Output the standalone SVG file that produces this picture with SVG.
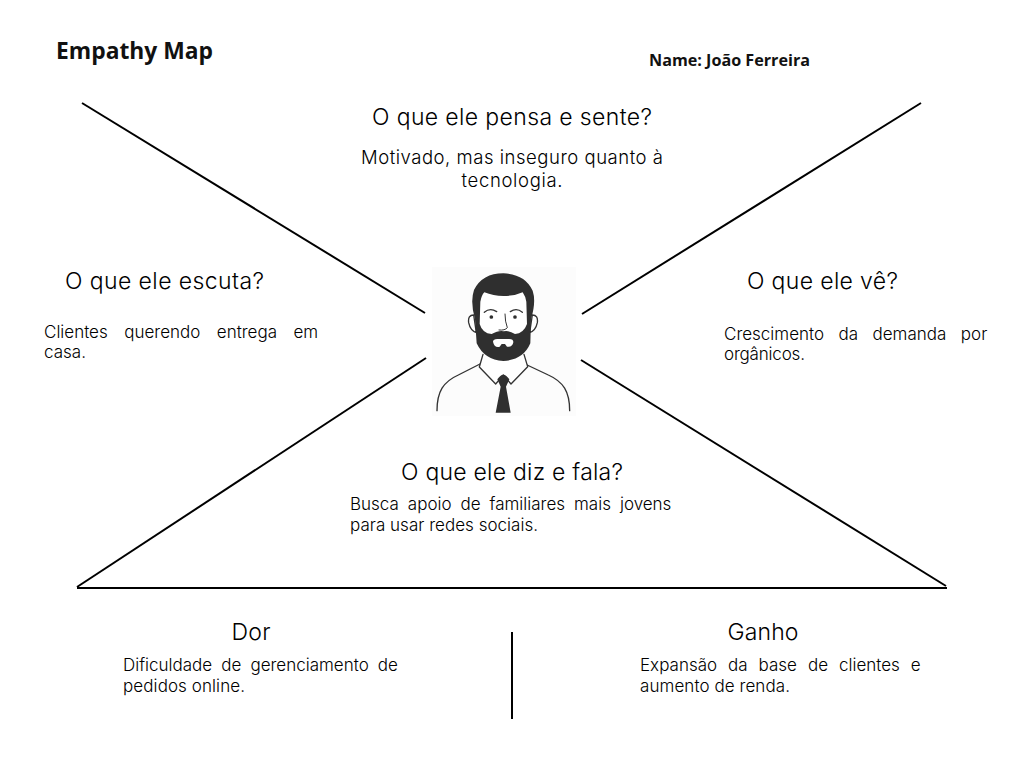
<svg xmlns="http://www.w3.org/2000/svg" width="1024" height="768" viewBox="0 0 1024 768">
<style>
.h{font-family:"Open Sans","Liberation Sans",sans-serif;font-weight:700;fill:#111}
.q{font-family:"Inter","Liberation Sans",sans-serif;font-weight:300;font-size:23px;fill:#000}
.b{font-family:"Inter","Liberation Sans",sans-serif;font-weight:300;font-size:17px;fill:#000}
.t{font-size:18.500px}
.m{text-anchor:middle}
.l{stroke:#000;stroke-width:2;fill:none;stroke-linecap:butt}
.a{fill:none;stroke:#333;stroke-width:4;stroke-linecap:round;stroke-linejoin:round}
.d{fill:#2f2f2f}
</style>
<rect width="1024" height="768" fill="#fff"/>
<g id="title"><text class="h" x="56" y="59" font-size="23" textLength="157" lengthAdjust="spacingAndGlyphs">Empathy Map</text></g>
<g id="name"><text class="h" x="649" y="66" font-size="16" textLength="161" lengthAdjust="spacingAndGlyphs">Name: João Ferreira</text></g>
<g id="connectors">
<line class="l" x1="82" y1="103" x2="425" y2="313"/>
<line class="l" x1="921" y1="103" x2="582" y2="314"/>
<line class="l" x1="426" y1="358" x2="77" y2="587"/>
<line class="l" x1="581" y1="360" x2="946" y2="586"/>
<line class="l" x1="77" y1="588" x2="947" y2="588"/>
<line class="l" x1="512" y1="632" x2="512" y2="719"/>
</g>
<g id="avatar">
<rect x="432" y="267" width="144" height="149" fill="#fcfcfc"/>
<g transform="translate(425 260) scale(.33333)">
<path class="a" d="M36 452C36 395 55 365 100 345L165 312M434 452C434 395 415 365 370 345L300 312"/>
<path d="M175 280L163 320L212 372L235 342L258 372L308 320L296 280Z" fill="#fff"/>
<path class="a" d="M174 283L163 321L212 372L235 345L258 372L308 320L297 283"/>
<path class="d" d="M217 358Q235 330 253 358L243 380L257 458H212L227 380Z"/>
<path d="M146 165Q128 165 131 188Q136 212 154 218ZM322 165Q340 165 337 188Q332 212 314 218Z" fill="#fff" stroke="#333" stroke-width="4"/>
<path class="d" d="M150 178Q135 125 147 90Q172 40 235 40Q300 42 323 92Q334 125 318 178L316 250Q295 300 235 303Q178 300 155 250Z"/>
<path d="M164 192L166 125Q170 105 178 97Q205 108 235 108Q270 108 293 97Q302 110 304 125L306 192Q296 220 270 222Q250 210 236 214Q222 210 200 222Q172 220 164 192Z" fill="#fff"/>
<path d="M204 245Q205 235 222 237L248 237Q266 235 265 247Q262 263 246 260L240 252H230L224 260Q208 264 204 245Z" fill="#fff"/>
<path class="a" d="M178 157Q195 142 215 155M256 155Q275 142 292 157"/>
<circle class="d" cx="199" cy="171" r="5.500"/><circle class="d" cx="270" cy="171" r="5.500"/>
<path class="a" style="stroke-width:3" d="M240 162Q240 185 247 203Q240 212 222 210"/>
</g>
</g>
<g id="thinks">
<text class="q m" x="512" y="125" textLength="280">O que ele pensa e sente?</text>
<text class="b t m" x="512" y="164" textLength="302">Motivado, mas inseguro quanto à</text>
<text class="b t m" x="512" y="187" textLength="101">tecnologia.</text>
</g>
<g id="hears">
<text class="q" x="65" y="289" textLength="199">O que ele escuta?</text>
<text class="b" x="44" y="338" word-spacing="11.700">Clientes querendo entrega em</text>
<text class="b" x="44" y="358" textLength="42">casa.</text>
</g>
<g id="sees">
<text class="q" x="747" y="289" textLength="151">O que ele vê?</text>
<text class="b" x="724" y="340" word-spacing="9.700">Crescimento da demanda por</text>
<text class="b" x="724" y="360" textLength="81">orgânicos.</text>
</g>
<g id="says">
<text class="q m" x="512" y="480" textLength="222">O que ele diz e fala?</text>
<text class="b" x="350" y="510" word-spacing="4.200">Busca apoio de familiares mais jovens</text>
<text class="b" x="350" y="531" textLength="188">para usar redes sociais.</text>
</g>
<g id="pain">
<text class="q m" x="251" y="640" textLength="39">Dor</text>
<text class="b" x="123" y="671" word-spacing="4.300">Dificuldade de gerenciamento de</text>
<text class="b" x="123" y="692" textLength="122">pedidos online.</text>
</g>
<g id="gain">
<text class="q m" x="763" y="640" textLength="71">Ganho</text>
<text class="b" x="640" y="671" word-spacing="6.200">Expansão da base de clientes e</text>
<text class="b" x="640" y="692" textLength="150">aumento de renda.</text>
</g>
</svg>
